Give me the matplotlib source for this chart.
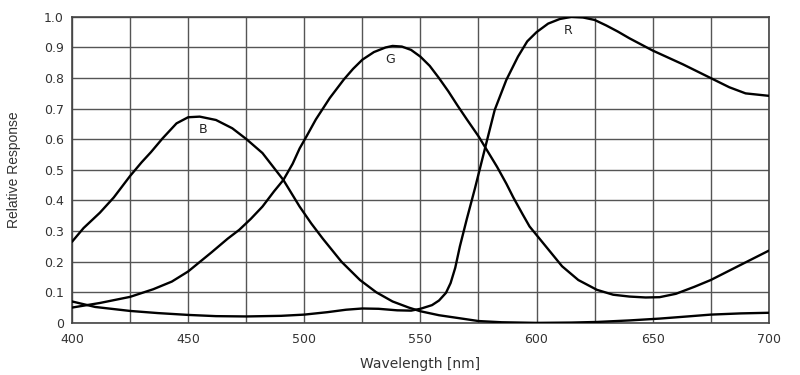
import matplotlib
matplotlib.use("Agg")
import matplotlib.pyplot as plt

# ── Data ───────────────────────────────────────────────────────────────────

b_nm = [400, 405, 412, 418, 425, 430, 434, 439, 445, 450, 455, 462, 469, 475,
        482, 491, 498, 503, 508, 516, 524, 531, 538, 545, 550, 558, 567, 575,
        585, 600, 615, 626, 640, 653, 665, 675, 688, 700]
b_val = [0.265, 0.31, 0.36, 0.41, 0.48, 0.525, 0.558, 0.603, 0.652, 0.672,
         0.674, 0.663, 0.636, 0.601, 0.555, 0.467, 0.38, 0.325, 0.275, 0.20,
         0.14, 0.10, 0.07, 0.05, 0.038, 0.025, 0.015, 0.006, 0.002, 0.0,
         0.001, 0.003, 0.008, 0.014, 0.021, 0.027, 0.031, 0.033]

g_nm = [400, 412, 425, 435, 443, 450, 460, 467, 472, 477, 482, 487, 491, 495,
        498, 501, 505, 511, 517, 521, 525, 530, 535, 538, 542, 546, 550, 554,
        558, 562, 566, 570, 575, 579, 583, 587, 590, 594, 597, 604, 611, 618,
        626, 633, 640, 647, 653, 660, 668, 675, 688, 700]
g_val = [0.05, 0.065, 0.085, 0.11, 0.135, 0.168, 0.23, 0.275, 0.304, 0.34,
         0.38, 0.43, 0.467, 0.52, 0.57, 0.61, 0.665, 0.735, 0.795, 0.83, 0.86,
         0.885, 0.9, 0.905, 0.903, 0.892, 0.87, 0.84, 0.80, 0.757, 0.71,
         0.665, 0.61, 0.56, 0.51, 0.455, 0.41, 0.355, 0.315, 0.25, 0.185,
         0.14, 0.108, 0.092, 0.086, 0.083, 0.084, 0.095, 0.118, 0.14, 0.19,
         0.236]

r_nm = [400, 410, 425, 437, 450, 462, 475, 490, 500, 510, 518, 525, 532, 540,
        546, 550, 555, 558, 561, 563, 565, 567, 570, 573.5, 578, 582, 587,
        592, 596, 600, 605, 610, 615, 620, 625, 630, 635, 640, 650, 663, 675,
        683, 690, 700]
r_val = [0.07, 0.052, 0.039, 0.032, 0.026, 0.022, 0.021, 0.023, 0.027, 0.035,
         0.043, 0.047, 0.046, 0.041, 0.040, 0.046, 0.058, 0.073, 0.098, 0.13,
         0.18, 0.25, 0.34, 0.44, 0.576, 0.696, 0.794, 0.87, 0.92, 0.95, 0.978,
         0.993, 1.0, 0.998, 0.99, 0.972, 0.952, 0.93, 0.89, 0.845, 0.80, 0.77,
         0.75, 0.742]

labels = [("B", 456.3, 0.631), ("G", 537, 0.86), ("R", 613.5, 0.955)]

x_ticks = [400, 450, 500, 550, 600, 650, 700]
y_ticks = [0, 0.1, 0.2, 0.3, 0.4, 0.5, 0.6, 0.7, 0.8, 0.9, 1.0]
y_ticklabels = ["0", "0.1", "0.2", "0.3", "0.4", "0.5", "0.6", "0.7", "0.8",
                "0.9", "1.0"]

# ── Plot ───────────────────────────────────────────────────────────────────

plt.rcParams["font.family"] = ["DejaVu Sans"]

fig = plt.figure(figsize=(8, 3.75), dpi=100)
ax = fig.add_axes([0.09, 0.139, 0.871, 0.816])

for xv in range(400, 701, 25):
    ax.axvline(xv, color="#555555", linewidth=1.0, zorder=1)
for yv in y_ticks:
    ax.axhline(yv, color="#555555", linewidth=1.0, zorder=1)

for nm, val in [(b_nm, b_val), (g_nm, g_val), (r_nm, r_val)]:
    ax.plot(nm, val, color="black", linewidth=1.7, zorder=3,
            solid_joinstyle="round", solid_capstyle="round")

for txt, xv, yv in labels:
    ax.text(xv, yv, txt, ha="center", va="center", fontsize=9,
            color="#222222", zorder=4)

ax.set_xlim(400, 700)
ax.set_ylim(0, 1.0)
ax.set_xticks(x_ticks)
ax.set_yticks(y_ticks)
ax.set_yticklabels(y_ticklabels)
ax.tick_params(length=0, labelsize=9, labelcolor="#333333")
ax.tick_params(axis="x", pad=7)
ax.tick_params(axis="y", pad=6)

for sp in ax.spines.values():
    sp.set_color("#444444")
    sp.set_linewidth(1.2)

ax.set_xlabel("Wavelength [nm]", fontsize=10, color="#333333", labelpad=8)
ax.set_ylabel("Relative Response", fontsize=10, color="#333333",
              labelpad=16, family="Liberation Sans")

plt.savefig("out.png", dpi=100)
plt.close()
